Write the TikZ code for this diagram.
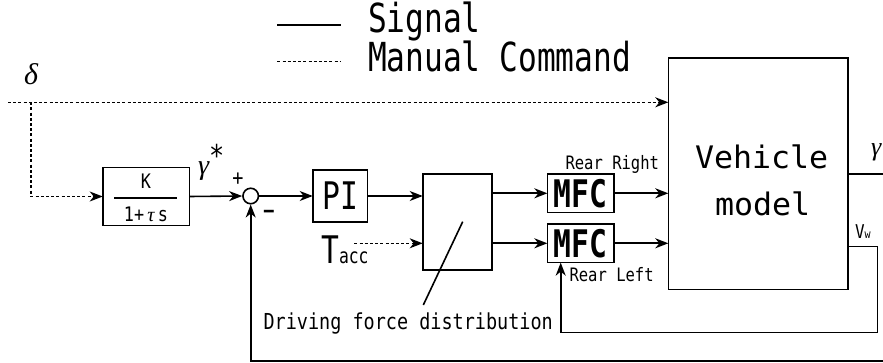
\documentclass[tikz,border=0pt]{standalone}
\usepackage{fontspec}
\usetikzlibrary{arrows.meta,calc}
\newfontfamily\lfa[FakeStretch=0.78]{DejaVu Sans Mono}
\newfontfamily\lfb[FakeStretch=0.84]{DejaVu Sans Mono}
\newfontfamily\lfc[FakeStretch=1.02]{DejaVu Sans Mono}
\newfontfamily\lfd[FakeStretch=0.78]{DejaVu Sans Mono}
\newfontfamily\grk{Liberation Serif}
\newcommand{\fsz}[1]{\fontsize{#1}{#1}\selectfont}
\begin{document}
\begin{tikzpicture}[x=1pt,y=-1pt,
  blk/.style={draw,line width=1.6pt,inner sep=0pt,outer sep=0pt},
  sig/.style={line width=1.6pt,-{Stealth[length=13pt,width=10pt,inset=4pt]}},
  man/.style={line width=1.3pt,dash pattern=on 3pt off 2.2pt,-{Stealth[length=13pt,width=10pt,inset=4pt]}},
  lbl/.style={inner sep=0pt,outer sep=0pt}]
\useasboundingbox (0,0) rectangle (883,363);
% legend
\coordinate (ls1) at (277.3,25);
\coordinate (ls2) at (340.7,25);
\coordinate (lm1) at (277.3,61.7);
\coordinate (lm2) at (340.7,61.7);
\draw[line width=1.6pt] (ls1) -- (ls2);
\draw[line width=1.3pt,dash pattern=on 3pt off 2.2pt] (lm1) -- (lm2);
\node[lbl,anchor=base west] (tsig) at (368,32.3) {\lfa\fsz{40}Signal};
\node[lbl,anchor=base west] (tman) at (368,71.7) {\lfa\fsz{40}Manual Command};
% blocks
\node[blk,minimum width=86.6pt,minimum height=58pt] (K) at (146,196.5) {};
\node[lbl] (Knum) at (146,181) {\lfb\fsz{20}K};
\node[lbl] (Kden) at (146,214) {\lfb\fsz{20}1+\,{\grk\itshape τ}\,s};
\draw[line width=1.6pt] (114,198.3) -- (177,198.3);
\node[draw,circle,line width=1.6pt,minimum size=15.5pt,inner sep=0pt] (sum) at (250.7,196) {};
\node[blk,minimum width=54.6pt,minimum height=52.4pt] (PI) at (340,196) {\lfd\fsz{38}PI};
\node[blk,minimum width=69pt,minimum height=96pt] (dist) at (457.2,222) {};
\node[blk,minimum width=66.7pt,minimum height=38.7pt] (mfcR) at (580.7,193.3) {\lfd\bfseries\fsz{38}MFC};
\node[blk,minimum width=66.7pt,minimum height=38.7pt] (mfcL) at (580.7,243.3) {\lfd\bfseries\fsz{38}MFC};
\node[blk,minimum width=179.4pt,minimum height=231pt] (veh) at (758,173.8) {};
\node[lbl,anchor=base west] (tveh) at (695,168.3) {\lfc\fsz{31}Vehicle};
\node[lbl,anchor=base west] (tmod) at (715,215.7) {\lfc\fsz{31}model};
% labels
\node[lbl,anchor=base west] (tdelta) at (24,85) {\grk\itshape\fsz{30}δ};
\node[lbl,anchor=base west] (tgs) at (198,175) {\grk\itshape\fsz{28}γ\raisebox{8pt}{\upshape\lfb\fsz{30}*}};
\node[lbl] (tplus) at (238,179) {\lfb\fsz{22}+};
\node[lbl] (tminus) at (269,214.5) {\lfb\bfseries\fsz{22}−};
\node[lbl,anchor=base west] (tT) at (321,263.3) {\lfd\fsz{38}T};
\node[lbl,anchor=base west] (tacc) at (339,263.3) {\lfd\fsz{21}acc};
\node[lbl,anchor=base west] (tRR) at (565.5,169.3) {\lfb\fsz{18.5}Rear Right};
\node[lbl,anchor=base west] (tRL) at (569.5,281.7) {\lfb\fsz{18.5}Rear Left};
\node[lbl,anchor=base west] (tdrv) at (263.5,329.3) {\lfb\fsz{22}Driving force distribution};
\node[lbl,anchor=base west] (tVw) at (855,238.3) {\lfb\fsz{19}V\fsz{12}w};
\node[lbl,anchor=base west] (tgam) at (871,156) {\grk\itshape\fsz{26}γ};
% connectors
\coordinate (d0) at (8,102.3);
\coordinate (dj) at (31,102.3);
\draw[man] (d0) -- (d0 -| veh.west);
\draw[man] (dj) |- (K.west);
\draw[sig] (K.east) -- (sum.west);
\draw[sig] (sum.east) -- (PI.west);
\draw[sig] (PI.east) -- (PI.east -| dist.west);
\coordinate (tac) at (354.3,243.3);
\draw[man] (tac) -- (tac -| dist.west);
\draw[sig] (dist.east |- mfcR.west) -- (mfcR.west);
\draw[sig] (dist.east |- mfcL.west) -- (mfcL.west);
\draw[sig] (mfcR.east) -- (mfcR.east -| veh.west);
\draw[sig] (mfcL.east) -- (mfcL.east -| veh.west);
\coordinate (gout) at (885,174);
\draw[line width=1.6pt] (veh.east |- gout) -- (gout);
\coordinate (vw0) at (847.7,246.7);
\coordinate (vw1) at (877.3,246.7);
\coordinate (vw2) at (877.3,332.3);
\coordinate (mL) at ($(mfcL.south)+(-20,0)$);
\draw[sig] (vw0) -- (vw1) -- (vw2) -| (mL);
\coordinate (fb0) at (885,361);
\draw[sig] (fb0) -| (sum.south);
% slash in distribution block
\coordinate (sl1) at (423.3,305);
\coordinate (sl2) at (462.7,221.7);
\draw[line width=1.6pt] (sl1) -- (sl2);
\end{tikzpicture}
\end{document}
